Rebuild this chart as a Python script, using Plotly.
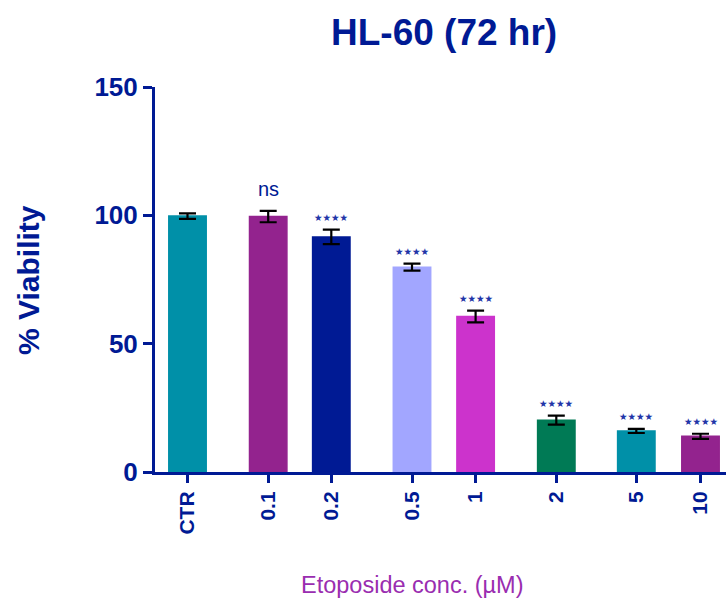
import plotly.graph_objects as go

# Cell viability after 72 h etoposide exposure (mean ± SEM)
conc_labels = ["CTR", "0.1", "0.2", "0.5", "1", "2", "5", "10"]
viability = [99.7, 99.5, 91.6, 79.8, 60.6, 20.2, 16.0, 13.9]
sem = [1.1, 2.2, 2.8, 1.35, 2.3, 1.75, 0.8, 1.0]
significance = ["", "ns", "****", "****", "****", "****", "****", "****"]

# Bar centres along the category axis (grouped spacing, axis units)
bar_centres = [32.5, 113.2, 176.3, 257.0, 320.6, 401.3, 481.3, 545.5]
bar_width = 37.4
x_extent = 571

bar_colors = ["#0090A8", "#93238E", "#001A94", "#A2A6FF",
              "#CC33CC", "#007A55", "#0090A8", "#93238E"]

NAVY = "#001A94"
PURPLE = "#9A2DB0"
FONT = "Liberation Sans, Arial, sans-serif"

fig = go.Figure()
fig.add_trace(go.Bar(
    x=bar_centres,
    y=viability,
    width=bar_width,
    marker=dict(color=bar_colors, line=dict(color=bar_colors, width=1.5)),
    error_y=dict(type="data", array=sem, visible=True,
                 color="black", thickness=2.2, width=8.5),
    hoverinfo="skip",
))

annotations = []
for xc, v, e, s in zip(bar_centres, viability, sem, significance):
    if not s:
        continue
    if s == "ns":
        annotations.append(dict(x=xc, y=v + e, xref="x", yref="y", text="ns",
                                showarrow=False, yanchor="bottom", yshift=9,
                                font=dict(family=FONT, size=20, color=NAVY)))
    else:
        annotations.append(dict(x=xc, y=v + e, xref="x", yref="y",
                                text="★" * len(s), showarrow=False,
                                yanchor="middle", yshift=12,
                                font=dict(family="DejaVu Sans", size=9.5,
                                          color="#2235A8")))

annotations += [
    dict(x=444, y=32, xref="paper", yref="paper", text="<b>HL-60 (72 hr)</b>",
         showarrow=False, xanchor="center", yanchor="middle",
         font=dict(family=FONT, size=37, color=NAVY)),
    dict(x=28, y=280, xref="paper", yref="paper", text="<b>% Viability</b>",
         showarrow=False, textangle=-90, xanchor="center", yanchor="middle",
         font=dict(family=FONT, size=30, color=NAVY)),
    dict(x=412, y=585, xref="paper", yref="paper", text="Etoposide conc. (µM)",
         showarrow=False, xanchor="center", yanchor="middle",
         font=dict(family=FONT, size=23.5, color=PURPLE)),
]

# convert pixel-placed paper annotations to paper fractions
W, H = 726, 601
ML, MR, MT, MB = 155, 0, 87, 129
for a in annotations[-3:]:
    a["x"] = (a["x"] - ML) / (W - ML - MR)
    a["y"] = 1 - (a["y"] - MT) / (H - MT - MB)

fig.update_layout(
    width=W, height=H,
    margin=dict(l=ML, r=MR, t=MT, b=MB, pad=0),
    paper_bgcolor="white", plot_bgcolor="white",
    showlegend=False,
    annotations=annotations,
    xaxis=dict(
        range=[0, x_extent], tickmode="array", tickvals=bar_centres,
        ticktext=[f"<b>{t}</b>" for t in conc_labels], tickangle=-90,
        tickfont=dict(family=FONT, size=21, color=NAVY),
        showline=True, linewidth=3, linecolor=NAVY,
        ticks="outside", ticklen=8, tickwidth=3, tickcolor=NAVY,
        showgrid=False, zeroline=False, fixedrange=True,
    ),
    yaxis=dict(
        range=[0, 150], tickvals=[0, 50, 100, 150],
        ticktext=["<b>0</b>", "<b>50</b>", "<b>100</b>", "<b>150</b>"],
        tickfont=dict(family=FONT, size=26, color=NAVY),
        showline=True, linewidth=3, linecolor=NAVY,
        ticks="outside", ticklen=9, tickwidth=3, tickcolor=NAVY,
        showgrid=False, zeroline=False, fixedrange=True,
    ),
)

fig.write_html("out.html", config={"displayModeBar": False})
